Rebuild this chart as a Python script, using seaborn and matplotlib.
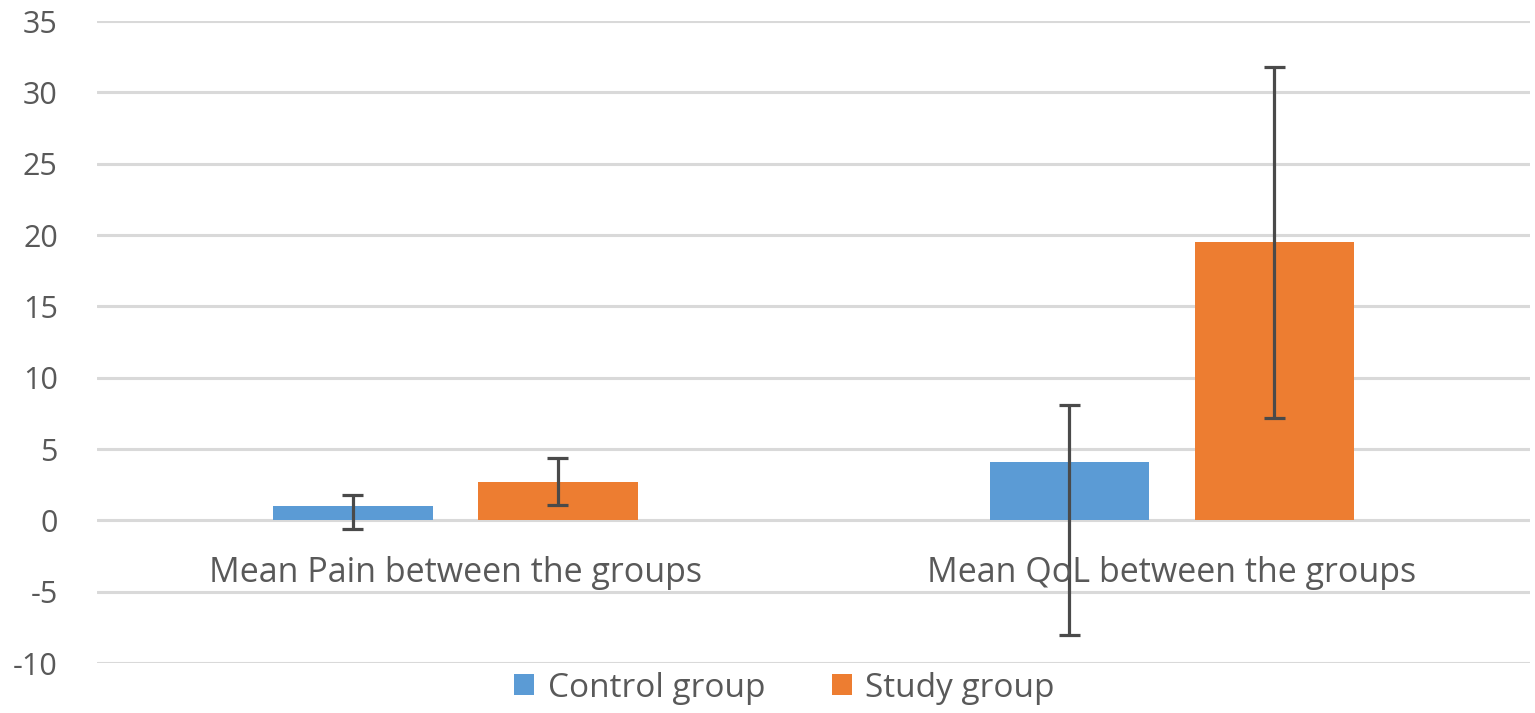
import matplotlib
matplotlib.use('Agg')
import matplotlib.pyplot as plt
import pandas as pd
import seaborn as sns

categories = ['Mean Pain between the groups', 'Mean QoL between the groups']
groups = ['Control group', 'Study group']
control_mean = [1.0, 4.1]
study_mean = [2.7, 19.5]
# error bar ends (low, high)
control_low = [-0.6, -8.0]
control_high = [1.8, 8.1]
study_low = [1.1, 7.2]
study_high = [4.4, 31.8]

colors = ['#5B9BD5', '#ED7D31']
text_col = '#595959'

df = pd.DataFrame({
    'cat': categories * 2,
    'group': [groups[0]] * 2 + [groups[1]] * 2,
    'value': control_mean + study_mean,
})
lows = [control_low, study_low]
highs = [control_high, study_high]

sns.set_style('white')
plt.rcParams['font.family'] = ['Open Sans', 'DejaVu Sans']
plt.rcParams['axes.unicode_minus'] = False

fig = plt.figure(figsize=(15.35, 7.13), dpi=100)
ax = fig.add_axes([0.063, 0.07, 0.934, 0.9005])

sns.barplot(data=df, x='cat', y='value', hue='group', palette=colors,
            width=0.572, gap=0.22, errorbar=None, saturation=1, ax=ax,
            linewidth=0, zorder=2)

for i, cont in enumerate(ax.containers):
    for j, bar in enumerate(cont):
        xc = bar.get_x() + bar.get_width() / 2
        ax.plot([xc, xc], [lows[i][j], highs[i][j]], color='#4a4a4a',
                lw=2.3, zorder=3, solid_capstyle='butt')
        for yv in (lows[i][j], highs[i][j]):
            ax.plot([xc - 0.0145, xc + 0.0145], [yv, yv], color='#4a4a4a',
                    lw=2.3, zorder=3, solid_capstyle='butt')

ax.set_ylim(-10, 35)
ax.set_xlim(-0.5, 1.5)
ax.set_yticks(range(-10, 36, 5))
ax.yaxis.grid(True, color='#d9d9d9', lw=2.2, zorder=0)
ax.set_axisbelow(True)
for s in ax.spines.values():
    s.set_visible(False)
ax.set_xticks([])
ax.set_xlabel('')
ax.set_ylabel('')
ax.tick_params(axis='y', length=0, pad=28, labelsize=22, labelcolor=text_col)

for k, cat in enumerate(categories):
    ax.text(k, -3.7, cat, ha='center', va='center', fontsize=24.5,
            color=text_col)

handles, labels = ax.get_legend_handles_labels()
ax.get_legend().remove()
fig.legend(handles, labels, loc='center', bbox_to_anchor=(0.511, 0.035),
           ncol=2, frameon=False, fontsize=24, labelcolor=text_col,
           handlelength=0.6, handleheight=0.6, handletextpad=0.4,
           columnspacing=2.0)

fig.savefig('out.png', dpi=100)
